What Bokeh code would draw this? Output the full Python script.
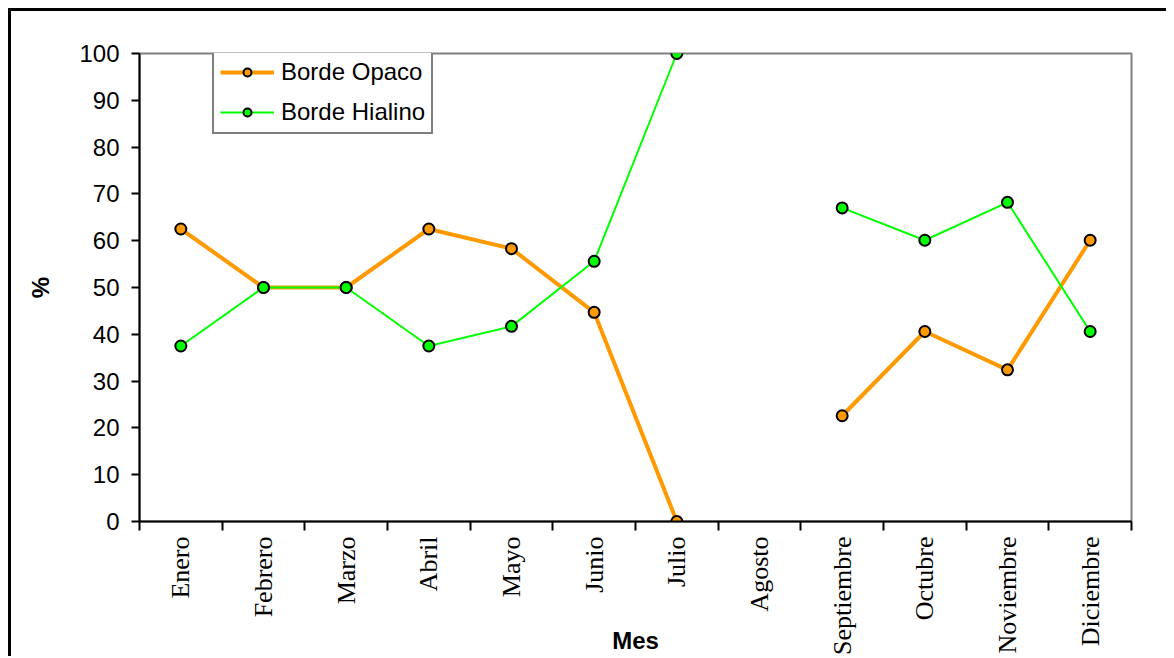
import math
import numpy as np
from bokeh.plotting import figure
from bokeh.models import Range1d, FixedTicker, Legend, LegendItem
from bokeh.embed import file_html
from bokeh.resources import INLINE

months = ["Enero", "Febrero", "Marzo", "Abril", "Mayo", "Junio", "Julio",
          "Agosto", "Septiembre", "Octubre", "Noviembre", "Diciembre"]
opaco = [62.5, 50.0, 50.0, 62.5, 58.3, 44.7, 0.0, np.nan, 22.6, 40.6, 32.4, 60.1]
hialino = [37.5, 50.0, 50.0, 37.5, 41.7, 55.6, 100.0, np.nan, 67.0, 60.1, 68.2, 40.6]
y_ticks = list(range(0, 101, 10))

xs = [i + 0.5 for i in range(len(months))]

p = figure(
    x_range=Range1d(0, len(months)), y_range=Range1d(0, 100),
    frame_width=992, frame_height=468,
    min_border_left=128, min_border_right=35, min_border_top=42, min_border_bottom=100,
    output_backend="svg", toolbar_location=None,
)
p.styles = {"border-top": "3px solid black", "border-left": "3px solid black",
            "margin-left": "8px", "margin-top": "8px"}
p.background_fill_color = "white"
p.border_fill_color = "white"
p.outline_line_color = "#808080"
p.outline_line_width = 2
p.xgrid.visible = False
p.ygrid.visible = False

# x axis: labels at category centres, ticks at category boundaries
p.xaxis.ticker = FixedTicker(ticks=xs, minor_ticks=list(range(len(months) + 1)))
p.xaxis.major_label_overrides = {x: m for x, m in zip(xs, months)}
p.xaxis.major_label_orientation = math.pi / 2
p.xaxis.major_label_text_font = "Liberation Serif"
p.xaxis.major_label_text_font_size = "26px"
p.xaxis.major_label_text_color = "black"
p.xaxis.major_tick_out = 0
p.xaxis.major_tick_in = 0
p.xaxis.minor_tick_out = 9
p.xaxis.minor_tick_in = 0
p.xaxis.minor_tick_line_width = 2
p.xaxis.minor_tick_line_color = "black"
p.xaxis.major_label_standoff = 6
p.xaxis.axis_label = "Mes"
p.xaxis.axis_label_text_font = "Liberation Sans"
p.xaxis.axis_label_text_font_size = "24px"
p.xaxis.axis_label_text_font_style = "bold"
p.xaxis.axis_label_text_color = "black"
p.xaxis.axis_label_standoff = -31

p.yaxis.ticker = FixedTicker(ticks=y_ticks)
p.yaxis.minor_tick_line_color = None
p.yaxis.major_tick_out = 8
p.yaxis.major_tick_in = 0
p.yaxis.major_tick_line_width = 2
p.yaxis.major_tick_line_color = "black"
p.yaxis.major_label_text_font = "Liberation Sans"
p.yaxis.major_label_text_font_size = "24px"
p.yaxis.major_label_text_color = "black"
p.yaxis.major_label_standoff = 12
p.yaxis.axis_label = "%"
p.yaxis.axis_label_text_font = "Liberation Sans"
p.yaxis.axis_label_text_font_size = "24px"
p.yaxis.axis_label_text_font_style = "bold"
p.yaxis.axis_label_text_color = "black"
p.yaxis.axis_label_standoff = 22

for ax in (p.xaxis, p.yaxis):
    ax.axis_line_width = 2
    ax.axis_line_color = "black"

orange = "#FF9900"
green = "#00FF00"

l1 = p.line(xs, opaco, line_color=orange, line_width=4)
s1 = p.scatter(xs, opaco, size=11, fill_color=orange, line_color="black", line_width=2)
l2 = p.line(xs, hialino, line_color=green, line_width=2)
s2 = p.scatter(xs, hialino, size=11, fill_color=green, line_color="black", line_width=2)

legend = Legend(
    items=[LegendItem(label="Borde Opaco", renderers=[l1, s1]),
           LegendItem(label="Borde Hialino", renderers=[l2, s2])],
    location=(73, 387),
    label_text_font="Liberation Sans", label_text_font_size="24px",
    label_text_color="black",
    glyph_width=54, glyph_height=20, label_height=20, label_standoff=7,
    spacing=12, padding=6, margin=0,
    border_line_color="black", border_line_width=2,
    background_fill_color="white", background_fill_alpha=1.0,
)
p.add_layout(legend, "center")

open("out.html", "w").write(file_html(p, INLINE))
